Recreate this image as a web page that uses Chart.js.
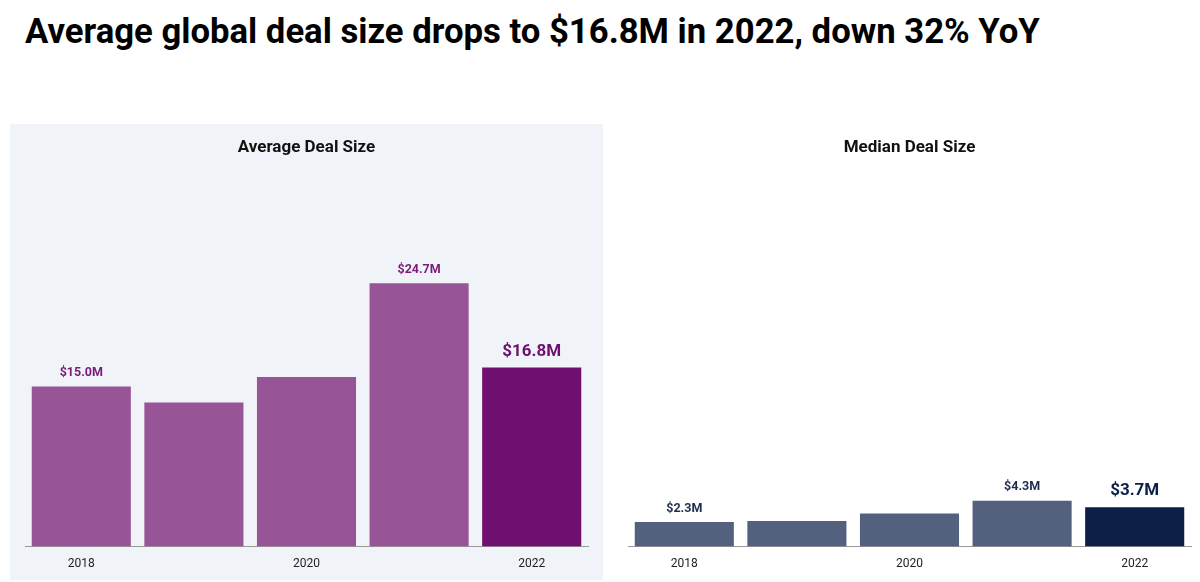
<!DOCTYPE html>
<html>
<head>
<meta charset="utf-8">
<script src="https://cdn.jsdelivr.net/npm/chart.js@4.4.1/dist/chart.umd.min.js"></script>
<style>
  html, body { margin: 0; padding: 0; background: #ffffff; }
  body { width: 1200px; height: 582px; position: relative; overflow: hidden; font-family: Roboto, "Noto Sans", sans-serif; }
  #title { position: absolute; left: 25px; top: 11px; font: bold 34.7px Roboto, sans-serif; line-height: 40px; color: #000; white-space: nowrap; }
  #panel { position: absolute; left: 10px; top: 124px; width: 593px; height: 456px; background: #f0f3f7; }
  #leftWrap { position: absolute; left: 0; top: 123px; width: 603px; height: 459px; }
  #rightWrap { position: absolute; left: 603px; top: 123px; width: 597px; height: 459px; }
</style>
</head>
<body>
<div id="title">Average global deal size drops to $16.8M in 2022, down 32% YoY</div>
<div id="panel"></div>
<div id="leftWrap"><canvas id="left" width="603" height="459"></canvas></div>
<div id="rightWrap"><canvas id="right" width="597" height="459"></canvas></div>
<script>
// ---- data ----
const years = ['2018', '2019', '2020', '2021', '2022'];
const averageDealSize = [15.0, 13.5, 15.9, 24.7, 16.8];   // $M
const medianDealSize = [2.3, 2.4, 3.1, 4.3, 3.7];         // $M
const labeledIndices = [0, 3, 4];
const highlightIndex = 4;
const shownTickIndices = [0, 2, 4];

const avgColors = years.map((_, i) => i === highlightIndex ? '#6f0f6f' : '#975597');
const medColors = years.map((_, i) => i === highlightIndex ? '#0c1f48' : '#54617e');

const valueLabelPlugin = {
  id: 'valueLabels',
  afterDatasetsDraw(chart, args, opts) {
    const ctx = chart.ctx;
    const meta = chart.getDatasetMeta(0);
    const data = chart.data.datasets[0].data;
    ctx.save();
    ctx.textAlign = 'center';
    ctx.textBaseline = 'middle';
    labeledIndices.forEach(i => {
      const bar = meta.data[i];
      const big = i === highlightIndex;
      ctx.font = (big ? 'bold 17px' : 'bold 12.5px') + ' Roboto, sans-serif';
      ctx.fillStyle = big ? opts.bigColor : opts.color;
      ctx.fillText('$' + data[i].toFixed(1) + 'M', bar.x, bar.y - (big ? 16 : 13.5));
    });
    ctx.restore();
  }
};

function makeChart(id, title, values, colors, labelColor, bigLabelColor, rightPad) {
  return new Chart(document.getElementById(id), {
    type: 'bar',
    data: {
      labels: years,
      datasets: [{
        data: values,
        backgroundColor: colors,
        borderWidth: 0,
        barPercentage: 0.88,
        categoryPercentage: 1.0
      }]
    },
    options: {
      responsive: false,
      devicePixelRatio: 1,
      animation: false,
      layout: { padding: { left: 25, right: rightPad, top: 15, bottom: 1 } },
      plugins: {
        legend: { display: false },
        tooltip: { enabled: false },
        title: {
          display: true,
          text: title,
          color: '#111111',
          font: { family: 'Roboto', size: 17, weight: 'bold' },
          padding: { top: 0, bottom: 17 }
        },
        valueLabels: { color: labelColor, bigColor: bigLabelColor }
      },
      scales: {
        x: {
          grid: { display: false, drawTicks: false },
          border: { display: true, color: '#9a9a9a', width: 1 },
          ticks: {
            autoSkip: false,
            maxRotation: 0,
            padding: 10,
            color: '#222222',
            font: { family: 'Roboto', size: 12 },
            callback: function (v, i) { return shownTickIndices.includes(i) ? this.getLabelForValue(v) : ''; }
          }
        },
        y: { display: false, min: 0, max: 34.8 }
      }
    },
    plugins: [valueLabelPlugin]
  });
}

makeChart('left', 'Average Deal Size', averageDealSize, avgColors, '#7b1a78', '#6f0f6f', 15);
makeChart('right', 'Median Deal Size', medianDealSize, medColors, '#1e2d4f', '#0c1f48', 9);
</script>
</body>
</html>
